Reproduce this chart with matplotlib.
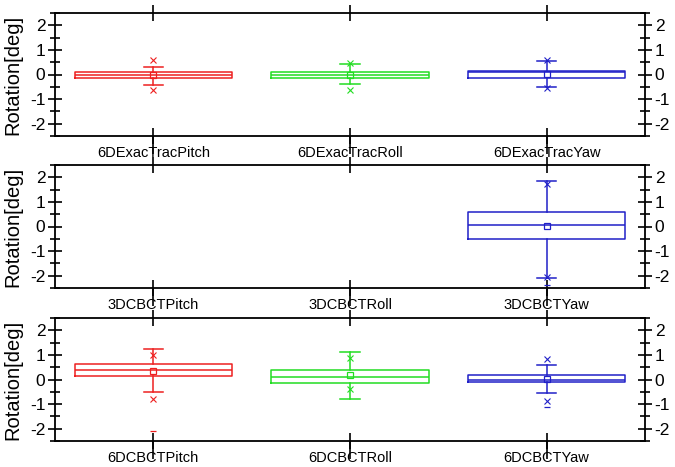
import matplotlib
matplotlib.use("Agg")
import matplotlib.pyplot as plt
import numpy as np

plt.rcParams['font.family'] = ['Liberation Sans', 'DejaVu Sans']

colors = ['#ee2020', '#22dd22', '#2020c8']

# Panel 1: 6D ExacTrac
cats1 = ['6DExacTracPitch', '6DExacTracRoll', '6DExacTracYaw']
q1_1 = [-0.15, -0.14, -0.16]
med_1 = [-0.02, -0.02, 0.10]
q3_1 = [0.11, 0.11, 0.15]
lo_1 = [-0.42, -0.38, -0.49]
hi_1 = [0.30, 0.42, 0.56]
mean_1 = [-0.02, 0.00, 0.02]
p99_1 = [0.57, 0.45, 0.60]
p1_1 = [-0.62, -0.61, -0.55]
max_1 = [None, None, None]
min_1 = [None, None, None]

# Panel 2: 3D CBCT (only Yaw has data)
cats2 = ['3DCBCTPitch', '3DCBCTRoll', '3DCBCTYaw']
q1_2 = [None, None, -0.52]
med_2 = [None, None, 0.08]
q3_2 = [None, None, 0.57]
lo_2 = [None, None, -2.09]
hi_2 = [None, None, 1.84]
mean_2 = [None, None, 0.03]
p99_2 = [None, None, 1.72]
p1_2 = [None, None, -2.05]
max_2 = [None, None, None]
min_2 = [None, None, -2.36]

# Panel 3: 6D CBCT
cats3 = ['6DCBCTPitch', '6DCBCTRoll', '6DCBCTYaw']
q1_3 = [0.13, -0.14, -0.12]
med_3 = [0.37, 0.11, -0.02]
q3_3 = [0.61, 0.38, 0.18]
lo_3 = [-0.50, -0.80, -0.53]
hi_3 = [1.22, 1.10, 0.58]
mean_3 = [0.33, 0.17, 0.04]
p99_3 = [1.00, 0.89, 0.82]
p1_3 = [-0.78, -0.37, -0.87]
max_3 = [None, None, None]
min_3 = [-2.10, None, -1.10]

panels = [
    (cats1, q1_1, med_1, q3_1, lo_1, hi_1, mean_1, p99_1, p1_1, max_1, min_1),
    (cats2, q1_2, med_2, q3_2, lo_2, hi_2, mean_2, p99_2, p1_2, max_2, min_2),
    (cats3, q1_3, med_3, q3_3, lo_3, hi_3, mean_3, p99_3, p1_3, max_3, min_3),
]

W, H = 675, 467
fig = plt.figure(figsize=(W / 100, H / 100), dpi=100)
left = 55 / W
width = 590 / W
tops = [13, 165, 318]
height = 123 / H

for (cats, q1, med, q3, lo, hi, mn, p99, p1, mx, mi), top in zip(panels, tops):
    ax = fig.add_axes([left, 1 - (top + 123) / H, width, height])
    positions = np.arange(1, len(cats) + 1)
    for i, pos in enumerate(positions):
        c = colors[i]
        if q1[i] is not None:
            stats = [dict(med=med[i], q1=q1[i], q3=q3[i], whislo=lo[i], whishi=hi[i],
                          mean=mn[i], fliers=[v for v in (p99[i], p1[i]) if v is not None])]
            ax.bxp(stats, positions=[pos], widths=0.8, capwidths=0.1, showmeans=True,
                   boxprops=dict(color=c, lw=1.1),
                   medianprops=dict(color=c, lw=1.1),
                   whiskerprops=dict(color=c, lw=1.1),
                   capprops=dict(color=c, lw=1.1),
                   meanprops=dict(marker='s', markerfacecolor='none', markeredgecolor=c,
                                  markersize=4, markeredgewidth=0.9),
                   flierprops=dict(marker='x', markeredgecolor=c, markersize=4,
                                   markeredgewidth=0.8),
                   manage_ticks=False)
        for v in (mx[i], mi[i]):
            if v is not None:
                ax.plot([pos], [v], marker='_', color=c, markersize=5, mew=0.9)
    ax.set_xlim(0.5, 3.5)
    ax.set_ylim(-2.48, 2.46)
    ax.set_xticks(positions)
    ax.set_xticklabels(cats, fontsize=10.5)
    ax.xaxis.remove_overlapping_locs = False
    ax.set_xticks(positions, minor=True)
    ax.set_yticks([-2, -1, 0, 1, 2])
    ax.set_yticklabels(['-2', '-1', '0', '1', '2'])
    ax.set_yticks(np.arange(-2.5, 2.6, 0.5), minor=True)
    ax.tick_params(axis='x', which='major', direction='inout', length=12, width=1.2,
                   top=True, bottom=True, pad=1)
    ax.tick_params(axis='x', which='minor', direction='out', length=13, width=1.2,
                   top=False, bottom=True)
    ax.tick_params(axis='y', which='major', direction='inout', length=10, width=1.2,
                   left=True, right=True, labelleft=True, labelright=True,
                   labelsize=12.5, pad=2)
    ax.tick_params(axis='y', which='minor', direction='inout', length=7, width=1.2,
                   left=True, right=True)
    for s in ax.spines.values():
        s.set_linewidth(1.3)
    ax.set_ylabel('Rotation[deg]', fontsize=14.5)
    ax.yaxis.set_label_coords(-0.056, 0.5)

fig.savefig('out.png', dpi=100)
